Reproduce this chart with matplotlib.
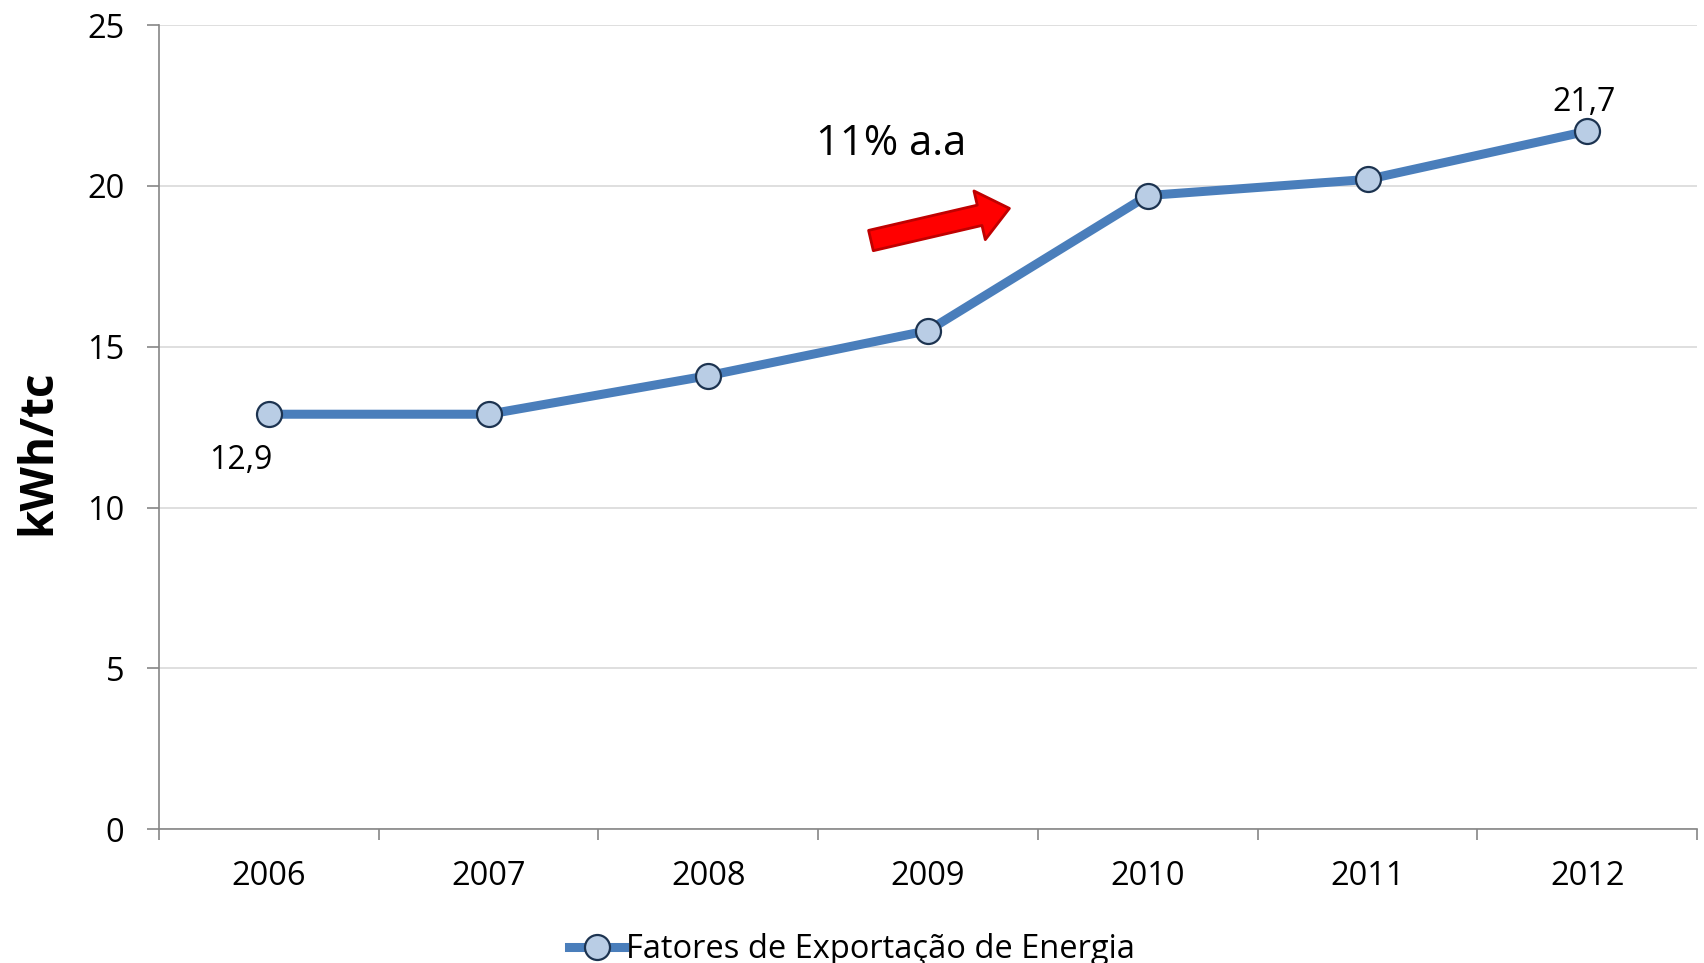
import matplotlib.pyplot as plt

plt.rcParams["font.family"] = ["Open Sans", "DejaVu Sans"]

# data
years = ["2006", "2007", "2008", "2009", "2010", "2011", "2012"]
values = [12.9, 12.9, 14.1, 15.5, 19.7, 20.2, 21.7]
labelled = {0: "12,9", 6: "21,7"}
series_name = "Fatores de Exportação de Energia"
y_ticks = [0, 5, 10, 15, 20, 25]

LINE_BLUE = "#4a7ebb"
MARKER_FILL = "#b9cde5"
MARKER_EDGE = "#1c3350"
GRID_GREY = "#d9d9d9"
AXIS_GREY = "#868686"


def main() -> None:
    fig = plt.figure(figsize=(17.04, 9.63), dpi=100)
    ax = fig.add_axes([0.0933, 0.139, 0.9027, 0.835])

    x = list(range(len(years)))
    ax.plot(x, values, color=LINE_BLUE, linewidth=6.5, marker="o",
            markersize=18, markerfacecolor=MARKER_FILL,
            markeredgecolor=MARKER_EDGE, markeredgewidth=1.6,
            label=series_name, zorder=3)

    # data labels on the first and last points
    ax.annotate(labelled[0], (0, values[0]), xytext=(-20, -33),
                textcoords="offset points", ha="center", va="center",
                fontsize=23)
    ax.annotate(labelled[6], (6, values[6]), xytext=(-2, 21),
                textcoords="offset points", ha="center", va="center",
                fontsize=23)

    # growth note with the red block arrow
    ax.text(2.83, 21.3, "11% a.a", fontsize=30, ha="center", va="center")
    ax.annotate("", xy=(3.37, 19.3), xytext=(2.74, 18.3),
                arrowprops=dict(arrowstyle="simple,head_length=2.2,head_width=3.6,tail_width=1.5",
                                mutation_scale=10, fc="#ff0000", ec="#c00000",
                                lw=2, shrinkA=0, shrinkB=0))

    ax.set_xlim(-0.5, len(years) - 0.5)
    ax.set_ylim(0, 25)
    ax.set_yticks(y_ticks)
    ax.set_xticks(x)
    ax.set_xticklabels(years)
    ax.set_xticks([i - 0.5 for i in range(len(years) + 1)], minor=True)

    ax.tick_params(axis="x", which="major", length=0, pad=22, labelsize=23.5)
    ax.tick_params(axis="x", which="minor", length=8, width=1.2, color=AXIS_GREY)
    ax.tick_params(axis="y", length=9, width=1.2, color=AXIS_GREY, pad=16,
                   labelsize=23.5)

    ax.yaxis.grid(True, color=GRID_GREY, linewidth=1.2)
    ax.set_axisbelow(True)
    for side in ["top", "right"]:
        ax.spines[side].set_visible(False)
    for side in ["left", "bottom"]:
        ax.spines[side].set_color(AXIS_GREY)
        ax.spines[side].set_linewidth(1.2)

    fig.text(0.022, 0.53, "kWh/tc", fontsize=33, fontweight="bold",
             rotation=90, ha="center", va="center")

    fig.legend(loc="lower center", bbox_to_anchor=(0.5, -0.034), frameon=False,
               fontsize=23.5, handlelength=1.7, handletextpad=0.05)

    fig.savefig("out.png", dpi=100)
    plt.close(fig)


if __name__ == "__main__":
    main()
